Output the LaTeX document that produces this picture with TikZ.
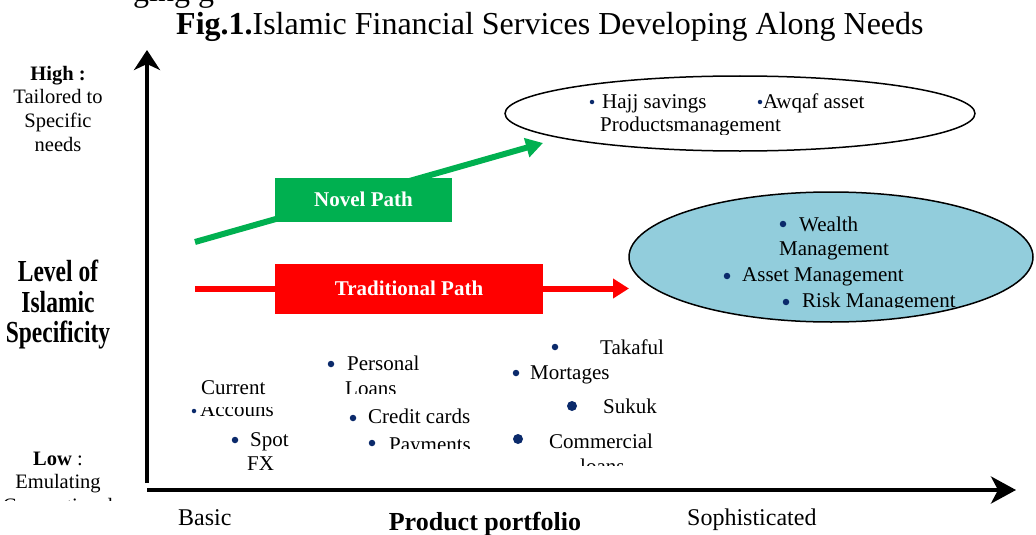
\documentclass[tikz,border=0pt]{standalone}
\usepackage{fontspec}
\usepackage{graphicx}
\setmainfont{Liberation Serif}
\usetikzlibrary{arrows.meta,shapes.geometric}
\definecolor{novelgreen}{HTML}{00B050}
\definecolor{tradred}{HTML}{FF0000}
\definecolor{wealthblue}{HTML}{92CDDC}
\definecolor{bulletnavy}{HTML}{0B2A6B}
\newcommand{\fsz}[1]{\fontsize{#1}{#1}\selectfont}

\begin{document}
\begin{tikzpicture}[x=1pt,y=-1pt,
  txt/.style={anchor=base west, inner sep=0pt, font=\fsz{21}},
  ctxt/.style={anchor=base, inner sep=0pt, font=\fsz{20.5}},
  dot/.style={circle, fill=bulletnavy, inner sep=0pt, minimum size=6.5pt},
  smalldot/.style={dot, minimum size=4.5pt},
  bigdot/.style={dot, minimum size=10pt},
  axis/.style={line width=3.8pt, black},
  pathbox/.style={rectangle, inner sep=0pt, text=white, font=\fsz{21}\bfseries},
  zone/.style={ellipse, draw=black, line width=1.5pt, inner sep=0pt},
]
\useasboundingbox (0,0) rectangle (1036,535);

% tail of the preceding line, cut by the page edge
\node[anchor=base west, inner sep=0pt, font=\fsz{32}] (prev) at (133,2) {ging g};

% title
\node[anchor=base west, inner sep=0pt, font=\fsz{32}] (title) at (176,35)
  {\textbf{Fig.1.}Islamic Financial Services Developing Along Needs};

% axes
\coordinate (yb) at (147,483);
\coordinate (yt) at (147,50);
\coordinate (xl) at (147,490);
\coordinate (xr) at (1016,490);
\draw[axis, -{Stealth[length=20pt,width=26pt,inset=6pt]}] (yb) -- (yt);
\draw[axis, -{Stealth[length=25pt,width=27pt,inset=7pt]}] (xl) -- (xr);

% vertical axis labels
\node[ctxt, font=\fsz{20.5}\bfseries] (high) at (58,81) {High :};
\node[ctxt] (high2) at (58,103) {Tailored to};
\node[ctxt] (high3) at (58,127) {Specific};
\node[ctxt] (high4) at (58,151) {needs};

\node[ctxt, font=\fsz{23.5}\bfseries] (lvl1) at (58,281) {\scalebox{1}[1.3]{Level of}};
\node[ctxt, font=\fsz{23.5}\bfseries] (lvl2) at (58,312) {\scalebox{1}[1.3]{Islamic}};
\node[ctxt, font=\fsz{23.5}\bfseries] (lvl3) at (58,342) {\scalebox{1}[1.3]{Specificity}};

\node[ctxt] (low) at (58,465) {\textbf{Low} :};
\node[ctxt] (low2) at (58,488) {Emulating};
\begin{scope}
  \clip (0,493) rectangle (140,500);
  \node[ctxt] (low3) at (58,512) {Conventional};
\end{scope}

% horizontal axis labels
\node[anchor=base west, inner sep=0pt, font=\fsz{24}] (basic) at (178,525) {Basic};
\node[anchor=base, inner sep=0pt, font=\fsz{26}\bfseries] (portfolio) at (485,530) {Product portfolio};
\node[anchor=base west, inner sep=0pt, font=\fsz{24}] (soph) at (687,525) {Sophisticated};

% novel path
\coordinate (gs) at (195,242);
\coordinate (ge) at (543,143);
\draw[line width=6pt, novelgreen, -{Triangle[length=17pt,width=19pt]}] (gs) -- (ge);
\node[pathbox, fill=novelgreen, minimum width=177pt, minimum height=44pt] (novel) at (363.5,200) {};
\node[pathbox, anchor=base] (novelt) at (363.5,206) {Novel Path};

% traditional path
\coordinate (rs) at (195,288.5);
\coordinate (re) at (629,288.5);
\draw[line width=6pt, tradred, -{Triangle[length=16pt,width=19pt]}] (rs) -- (re);
\node[pathbox, fill=tradred, minimum width=268pt, minimum height=50pt] (trad) at (409,289) {};
\node[pathbox, anchor=base] (tradt) at (409,295) {Traditional Path};

% specific products
\node[zone, minimum width=470pt, minimum height=75pt] (special) at (740,113.5) {};
\node[smalldot] (d1) at (592,102) {};
\node[txt] (hajj) at (602,108) {Hajj savings};
\node[smalldot] (d2) at (760,102) {};
\node[txt] (awqaf) at (763,108) {Awqaf asset};
\begin{scope}
  \clip (590,112) rectangle (800,134);
  \node[txt] (prodm) at (600,131) {Productsmanagement};
\end{scope}

% sophisticated services
\node[zone, fill=wealthblue, minimum width=404pt, minimum height=130pt] (wealthzone) at (831,257) {};
\node[dot] (d3) at (783,224) {};
\node[txt] (wealth) at (799,231) {Wealth};
\node[txt] (wealth2) at (779,255) {Management};
\node[dot] (d4) at (727,276) {};
\node[txt] (asset) at (742,281) {Asset Management};
\node[dot] (d5) at (786,302) {};
\begin{scope}
  \clip (790,285) rectangle (980,307.5);
  \node[txt] (risk) at (802,307) {Risk Management};
\end{scope}

% basic products
\node[txt] (current) at (201,394) {Current};
\begin{scope}
  \clip (185,407.5) rectangle (290,418);
  \node[smalldot] (d6) at (194,411) {};
  \node[txt] (accouns) at (200,416) {Accouns};
\end{scope}
\node[dot] (d7) at (235,440) {};
\node[txt] (spot) at (250,446) {Spot};
\begin{scope}
  \clip (240,450) rectangle (300,470);
  \node[txt] (fx) at (247,470) {FX};
\end{scope}

\node[dot] (d8) at (331,364) {};
\node[txt] (personal) at (347,370) {Personal};
\begin{scope}
  \clip (340,375) rectangle (420,393);
  \node[txt] (loans) at (345,395) {Loans};
\end{scope}
\node[dot] (d9) at (353,418) {};
\node[txt] (credit) at (368,423) {Credit cards};
\node[dot] (d10) at (372,443) {};
\begin{scope}
  \clip (380,430) rectangle (480,448);
  \node[txt] (payments) at (389,451) {Payments};
\end{scope}

\node[dot] (d11) at (555,347) {};
\node[txt] (takaful) at (600,354) {Takaful};
\node[dot] (d12) at (516,373) {};
\node[txt] (mortages) at (530,379) {Mortages};
\node[bigdot] (d13) at (572,406) {};
\node[txt] (sukuk) at (603,413) {Sukuk};
\node[bigdot] (d14) at (518,439) {};
\node[txt] (commercial) at (549,448) {Commercial};
\begin{scope}
  \clip (570,455) rectangle (640,465);
  \node[txt] (cloans) at (580,473) {loans};
\end{scope}
\end{tikzpicture}
\end{document}
